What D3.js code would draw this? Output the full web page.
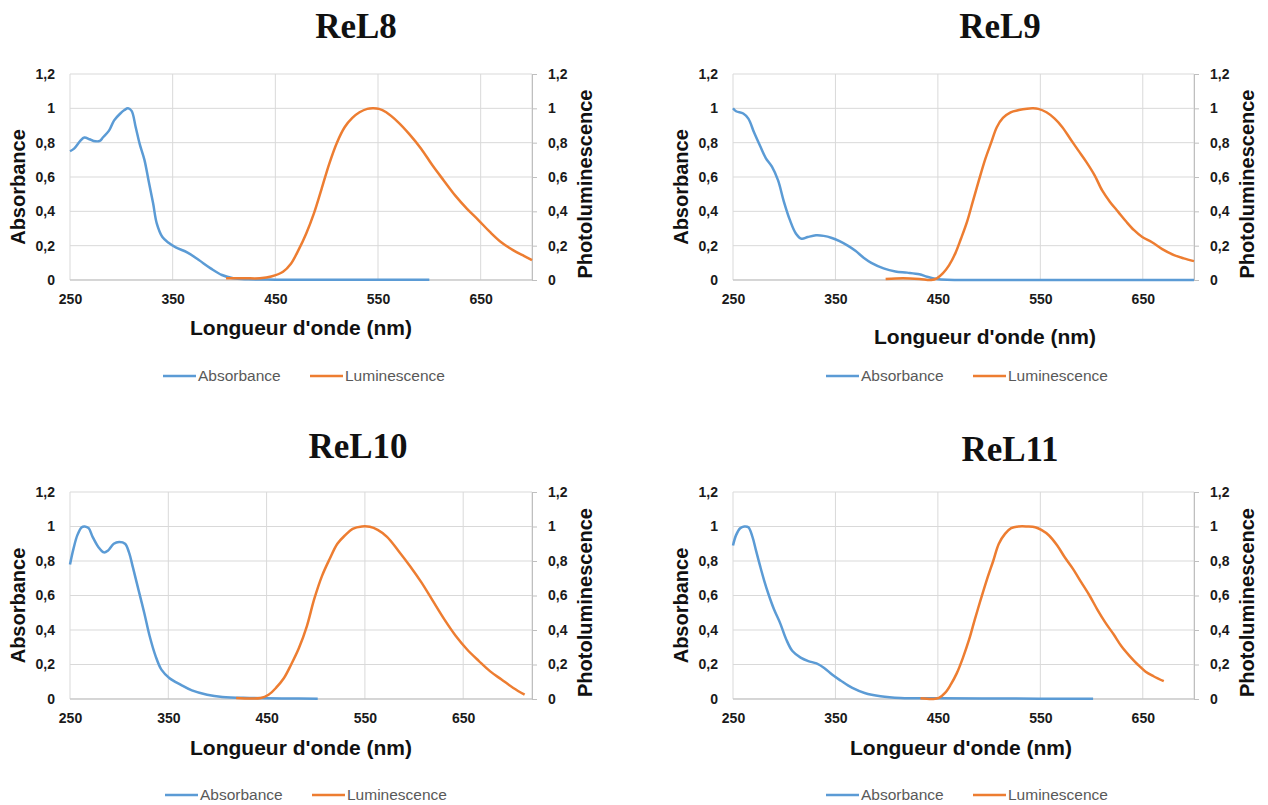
<!DOCTYPE html>
<html>
<head>
<meta charset="utf-8">
<script src="https://cdn.jsdelivr.net/npm/d3@7"></script>
<style>
  html, body { margin: 0; padding: 0; background: #fff; }
  svg { display: block; }
</style>
</head>
<body>
<svg id="chart" width="1268" height="805"></svg>
<script>
// ---------- DATA ----------
const panelTitles = ["ReL8", "ReL9", "ReL10", "ReL11"];
const seriesNames = ["Absorbance", "Luminescence"];
const xTickValues = [250, 350, 450, 550, 650];
const yTickValues = [0, 0.2, 0.4, 0.6, 0.8, 1, 1.2];
const xDomains = [[250, 700], [250, 700], [250, 720], [250, 700]];

// [wavelength (nm), normalised intensity]
const rel8Absorbance = [[250,0.75],[254,0.765],[260,0.81],[264,0.83],[269,0.82],[273,0.81],[279,0.81],[282,0.83],[288,0.87],[293,0.93],[299,0.97],[303,0.99],[306.5,1.0],[310,0.985],[314,0.89],[318,0.79],[322.5,0.70],[326.5,0.58],[331,0.445],[334.5,0.33],[340,0.25],[346,0.217],[353,0.19],[364.5,0.16],[375.5,0.116],[387,0.068],[398,0.029],[409,0.01],[424,0.004],[450,0.002],[500,0.001],[550,0.001],[600,0.001]];
const rel8Luminescence = [[402,0.01],[420,0.01],[435,0.01],[446,0.02],[457.5,0.048],[465,0.093],[472.5,0.174],[480,0.27],[487.5,0.387],[495,0.53],[502.5,0.677],[510,0.80],[517.5,0.89],[525,0.944],[532,0.977],[539.5,0.997],[545,1.0],[551,0.997],[558,0.977],[569.5,0.92],[580.5,0.85],[592,0.765],[603,0.668],[614,0.58],[625.5,0.49],[636.5,0.416],[648,0.348],[659,0.28],[670,0.22],[681.5,0.174],[692.5,0.139],[700,0.116]];

const rel9Absorbance = [[250,1.0],[253,0.983],[260,0.97],[265,0.94],[270.5,0.86],[276.5,0.78],[282,0.71],[288,0.66],[294,0.58],[299.5,0.46],[305.5,0.35],[311.5,0.27],[317,0.24],[323,0.25],[331,0.26],[338.5,0.257],[346.5,0.245],[354,0.226],[362,0.2],[369.5,0.17],[377.5,0.13],[385,0.1],[397,0.068],[408.5,0.05],[420,0.043],[432,0.033],[439.5,0.019],[449,0.006],[459,0.001],[500,0.0],[550,0.0],[600,0.0],[650,0.0],[700,0.0]];
const rel9Luminescence = [[399,0.006],[416,0.01],[432,0.006],[443.5,0.0],[449,0.01],[455,0.04],[461,0.087],[467,0.155],[472.5,0.24],[478.5,0.34],[484,0.455],[490,0.58],[496,0.70],[502,0.80],[507.5,0.89],[513.5,0.944],[521,0.977],[529,0.99],[537,0.998],[542.5,1.0],[548,0.997],[556,0.977],[564,0.94],[571.5,0.89],[579.5,0.82],[587,0.755],[595,0.687],[603,0.61],[610.5,0.52],[618,0.455],[626,0.397],[634,0.339],[641.5,0.29],[649.5,0.25],[659,0.22],[669,0.18],[680.5,0.145],[690,0.126],[700,0.11]];

const rel10Absorbance = [[250,0.78],[253.5,0.87],[257.5,0.95],[262,0.996],[265,1.0],[269,0.99],[273,0.94],[279,0.88],[284.5,0.85],[288.5,0.86],[294.5,0.90],[300,0.91],[306,0.90],[310,0.85],[314,0.763],[319.5,0.637],[325.5,0.50],[331,0.365],[337,0.25],[343,0.17],[351,0.122],[362.5,0.083],[374,0.05],[389.5,0.025],[405,0.012],[432.5,0.006],[470,0.003],[502,0.002]];
const rel10Luminescence = [[419,0.006],[444,0.006],[452,0.025],[459.5,0.064],[467.5,0.12],[475,0.2],[483,0.297],[491,0.423],[498.5,0.58],[506.5,0.715],[514,0.81],[522,0.9],[530,0.95],[537.5,0.986],[547,1.0],[555,0.998],[563,0.98],[572.5,0.94],[584,0.86],[596,0.77],[607.5,0.676],[619,0.57],[631,0.46],[642.5,0.365],[654,0.287],[666,0.22],[677.5,0.16],[689,0.113],[701,0.064],[712.5,0.025]];

const rel11Absorbance = [[250,0.89],[253,0.95],[257,0.99],[261,1.0],[265,0.996],[269,0.94],[272.5,0.86],[276.5,0.77],[280.5,0.685],[284.5,0.61],[290,0.52],[296,0.44],[302,0.345],[308,0.278],[316,0.24],[323.5,0.22],[331.5,0.206],[339,0.18],[347,0.14],[355,0.107],[366.5,0.064],[378.5,0.035],[394,0.016],[413.5,0.006],[453,0.004],[500,0.003],[550,0.002],[601.5,0.002]];
const rel11Luminescence = [[433,0.004],[445,0.0],[451,0.006],[457,0.035],[462.5,0.083],[468.5,0.15],[474.5,0.24],[480.5,0.345],[486,0.46],[492,0.58],[498,0.695],[504,0.80],[509.5,0.9],[515.5,0.957],[521.5,0.99],[529,1.0],[537,1.0],[545,0.996],[551,0.98],[558.5,0.948],[566.5,0.89],[574,0.82],[582,0.753],[590,0.676],[598,0.6],[605.5,0.52],[613.5,0.443],[621.5,0.375],[629,0.307],[637,0.25],[645,0.2],[652.5,0.16],[660.5,0.132],[670.5,0.103]];

const absorbanceSeries = [rel8Absorbance, rel9Absorbance, rel10Absorbance, rel11Absorbance];
const luminescenceSeries = [rel8Luminescence, rel9Luminescence, rel10Luminescence, rel11Luminescence];

// ---------- LAYOUT ----------
const layouts = [
  { left: 70,  top: 74,  right: 532,  bottom: 280, titleX: 356,  titleY: 38,
    xTitleX: 301, xTitleY: 335, legendX: 163, legendY: 376 },
  { left: 733, top: 74,  right: 1194, bottom: 280, titleX: 1000, titleY: 38,
    xTitleX: 985, xTitleY: 344, legendX: 826, legendY: 376 },
  { left: 70,  top: 492, right: 532,  bottom: 699, titleX: 358,  titleY: 458,
    xTitleX: 301, xTitleY: 755, legendX: 165, legendY: 795 },
  { left: 733, top: 492, right: 1194, bottom: 699, titleX: 1010, titleY: 461,
    xTitleX: 961, xTitleY: 755, legendX: 826, legendY: 795 }
];

const colors = { abs: "#5b9bd5", lum: "#ed7d31", grid: "#d9d9d9", tick: "#1a1a1a" };
const fmt = v => (v === 0 ? "0" : String(+v.toFixed(1)).replace(".", ","));

const svg = d3.select("#chart");

layouts.forEach((L, i) => {
  const g = svg.append("g");
  const x = d3.scaleLinear().domain(xDomains[i]).range([L.left, L.right]);
  const y = d3.scaleLinear().domain([0, 1.2]).range([L.bottom, L.top]);

  // title
  g.append("text")
    .attr("x", L.titleX).attr("y", L.titleY)
    .attr("text-anchor", "middle")
    .attr("font-family", "'Liberation Serif', 'Times New Roman', serif")
    .attr("font-weight", "bold").attr("font-size", 35)
    .attr("fill", "#111")
    .text(panelTitles[i]);

  // horizontal gridlines
  g.append("g").selectAll("line").data(yTickValues).join("line")
    .attr("x1", L.left).attr("x2", L.right)
    .attr("y1", d => y(d)).attr("y2", d => y(d))
    .attr("stroke", colors.grid).attr("stroke-width", 1);

  // vertical gridlines
  g.append("g").selectAll("line").data(xTickValues.concat([xDomains[i][1]])).join("line")
    .attr("x1", d => x(d)).attr("x2", d => x(d))
    .attr("y1", L.top).attr("y2", L.bottom)
    .attr("stroke", colors.grid).attr("stroke-width", 1);

  // bottom axis line slightly darker
  g.append("line")
    .attr("x1", L.left).attr("x2", L.right).attr("y1", L.bottom).attr("y2", L.bottom)
    .attr("stroke", "#bfbfbf").attr("stroke-width", 1);

  // left axis labels
  const leftAxis = d3.axisLeft(y).tickValues(yTickValues).tickFormat(fmt).tickSize(0).tickPadding(15);
  const la = g.append("g").attr("transform", `translate(${L.left},0)`).call(leftAxis);
  la.select(".domain").remove();
  la.selectAll("text").attr("font-family", "'Liberation Sans', Arial, sans-serif")
    .attr("font-size", 14).attr("font-weight", "bold").attr("fill", colors.tick);

  // right axis (ticks outward)
  const rightAxis = d3.axisRight(y).tickValues(yTickValues).tickFormat(fmt).tickSize(5).tickPadding(11);
  const ra = g.append("g").attr("transform", `translate(${L.right},0)`).call(rightAxis);
  ra.select(".domain").attr("stroke", "#bfbfbf");
  ra.selectAll(".tick line").attr("stroke", "#bfbfbf");
  ra.selectAll("text").attr("font-family", "'Liberation Sans', Arial, sans-serif")
    .attr("font-size", 14).attr("font-weight", "bold").attr("fill", colors.tick);

  // bottom axis labels
  const bottomAxis = d3.axisBottom(x).tickValues(xTickValues).tickFormat(d3.format("d")).tickSize(0).tickPadding(14);
  const ba = g.append("g").attr("transform", `translate(0,${L.bottom})`).call(bottomAxis);
  ba.select(".domain").remove();
  ba.selectAll("text").attr("font-family", "'Liberation Sans', Arial, sans-serif")
    .attr("font-size", 14).attr("font-weight", "bold").attr("fill", colors.tick);

  // axis titles
  const midY = (L.top + L.bottom) / 2;
  g.append("text")
    .attr("transform", `translate(${L.left - 45},${midY + 10}) rotate(-90)`)
    .attr("text-anchor", "middle")
    .attr("font-family", "'Liberation Sans', Arial, sans-serif")
    .attr("font-weight", "bold").attr("font-size", 20).attr("fill", "#111")
    .text("Absorbance");
  g.append("text")
    .attr("transform", `translate(${L.right + 60},${midY + 7}) rotate(-90)`)
    .attr("text-anchor", "middle")
    .attr("font-family", "'Liberation Sans', Arial, sans-serif")
    .attr("font-weight", "bold").attr("font-size", 20).attr("fill", "#111")
    .text("Photoluminescence");
  g.append("text")
    .attr("x", L.xTitleX).attr("y", L.xTitleY)
    .attr("text-anchor", "middle")
    .attr("font-family", "'Liberation Sans', Arial, sans-serif")
    .attr("font-weight", "bold").attr("font-size", 21).attr("fill", "#111")
    .text("Longueur d'onde (nm)");

  // curves
  const line = d3.line().x(d => x(d[0])).y(d => y(d[1])).curve(d3.curveCatmullRom.alpha(0.5));
  g.append("path").datum(absorbanceSeries[i])
    .attr("d", line).attr("fill", "none")
    .attr("stroke", colors.abs).attr("stroke-width", 2.5).attr("stroke-linejoin", "round");
  g.append("path").datum(luminescenceSeries[i])
    .attr("d", line).attr("fill", "none")
    .attr("stroke", colors.lum).attr("stroke-width", 2.5).attr("stroke-linejoin", "round");

  // legend
  const lg = g.append("g").attr("transform", `translate(${L.legendX},${L.legendY})`);
  const items = [
    { name: seriesNames[0], color: colors.abs, dx: 0 },
    { name: seriesNames[1], color: colors.lum, dx: 147 }
  ];
  items.forEach(it => {
    lg.append("line").attr("x1", it.dx).attr("x2", it.dx + 33).attr("y1", 0).attr("y2", 0)
      .attr("stroke", it.color).attr("stroke-width", 2.5);
    lg.append("text").attr("x", it.dx + 35).attr("y", 5)
      .attr("font-family", "'Liberation Sans', Arial, sans-serif")
      .attr("font-size", 15.5).attr("fill", "#595959")
      .text(it.name);
  });
});
</script>
</body>
</html>
